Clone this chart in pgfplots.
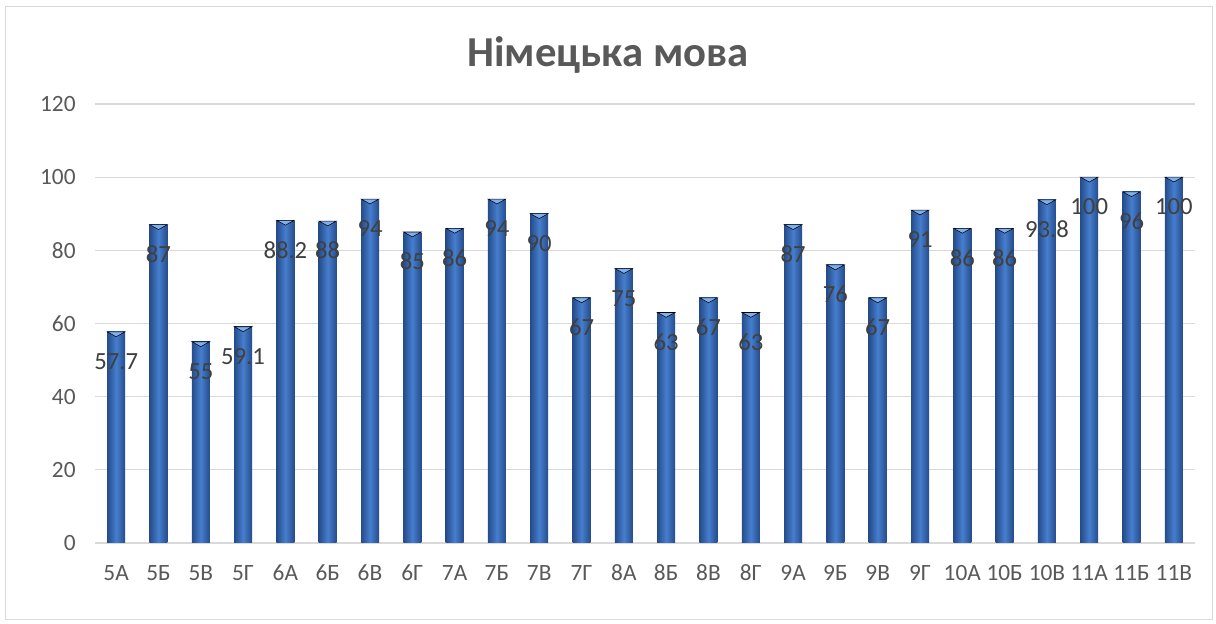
\documentclass[border=0pt]{standalone}
\usepackage{fontspec}
\setmainfont{Carlito}
\usepackage{pgfplots}
\usepackage{pgfplotstable}
\pgfplotsset{compat=1.18}
\definecolor{txt}{HTML}{595959}
\definecolor{lbl}{HTML}{404040}
\definecolor{gridc}{HTML}{D9D9D9}
\definecolor{bdark}{HTML}{254C8A}
\definecolor{blight}{HTML}{467ECE}
\definecolor{btop}{HTML}{7FB0EE}
\pgfplotstableread{
x y
0 57.7
1 87
2 55
3 59.1
4 88.2
5 88
6 94
7 85
8 86
9 94
10 90
11 67
12 75
13 63
14 67
15 63
16 87
17 76
18 67
19 91
20 86
21 86
22 93.8
23 100
24 96
25 100
}\datatable
\begin{document}
\begin{tikzpicture}[x=1pt,y=1pt]
\useasboundingbox (0,0) rectangle (912,468);
\fill[white] (0,0) rectangle (912,468);
\draw[color=gridc, line width=0.75pt] (3.75,3) rectangle (909,462.75);
\node[font=\fontsize{32}{38}\selectfont\bfseries, text=txt] at (456,426.75) {Німецька мова};
\begin{axis}[
  at={(71.25pt,60.75pt)}, anchor=south west, scale only axis,
  width=825pt, height=329.25pt,
  xmin=-0.5, xmax=25.5, ymin=0, ymax=120,
  ytick={0,20,...,120},
  xtick={0,...,25},
  xticklabels={5А,5Б,5В,5Г,6А,6Б,6В,6Г,7А,7Б,7В,7Г,8А,8Б,8В,8Г,9А,9Б,9В,9Г,10А,10Б,10В,11А,11Б,11В},
  axis line style={draw=none},
  major tick length=0pt,
  ymajorgrids, grid style={gridc, line width=0.9pt},
  ticklabel style={font=\fontsize{17.5}{20}\selectfont, text=txt},
  xticklabel style={yshift=-13pt},
  yticklabel style={xshift=-11pt},
  /pgf/number format/assume math mode=true,
  clip=false,
]
\pgfplotsinvokeforeach{0,...,25}{
\addplot[ybar, bar width=13.5pt, bar shift=0pt, draw=none,
  left color=bdark, right color=bdark, middle color=blight,
  x filter/.expression={x==#1 ? x : nan},
] table[x=x, y=y] {\datatable};
}
\addplot[only marks, mark=triangle*, mark size=7.6pt,
  mark options={fill=btop, draw=none, yshift=-1.2pt, rotate=180, yscale=0.32},
  nodes near coords,
  every node near coord/.style={anchor=center, yshift=-21pt, font=\fontsize{18.5}{21}\selectfont, text=lbl, /pgf/number format/assume math mode=true},
] table[x=x, y=y] {\datatable};
\end{axis}
\end{tikzpicture}
\end{document}
